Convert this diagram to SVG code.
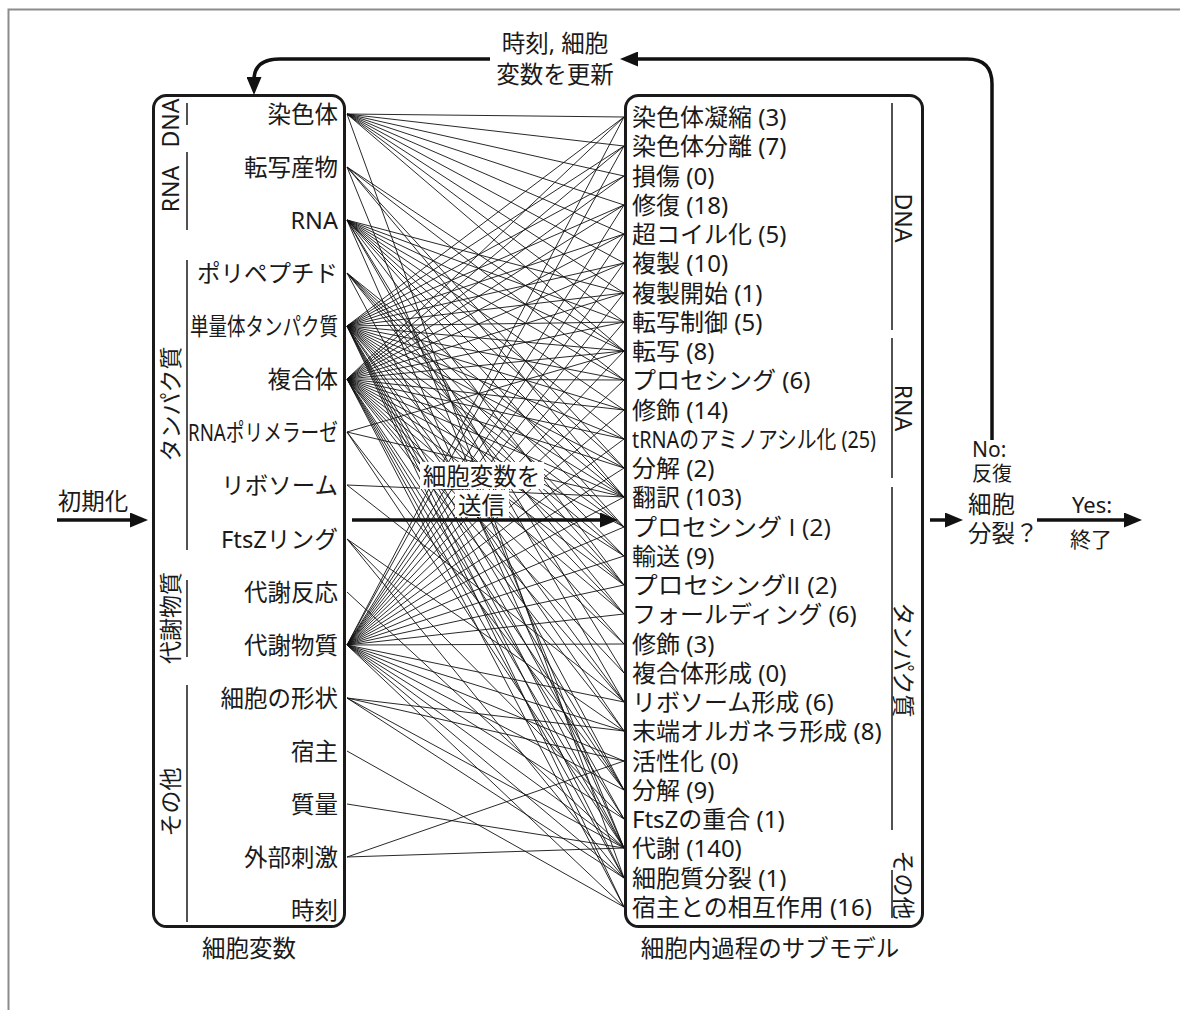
<svg xmlns="http://www.w3.org/2000/svg" width="1180" height="1010" viewBox="0 0 1180 1010">
<style>
.t{font-family:"Noto Sans","Noto Sans CJK JP",sans-serif;fill:#1a1a1a}
.os{font-family:"Open Sans","Noto Sans CJK JP",sans-serif}
.li{font-size:23.5px;text-anchor:end}
.ri{font-size:24px}
.lab{font-size:23.5px}
.rot{font-size:23px;text-anchor:middle;dominant-baseline:central}
.box{fill:none;stroke:#1a1a1a;stroke-width:3}
.grp{stroke:#1a1a1a;stroke-width:1.5}
.conn{stroke:#111;stroke-width:0.9;fill:none}
.big{stroke:#111;stroke-width:3.5;fill:none}
</style>
<defs>
<marker id="ah" viewBox="0 0 18 15" refX="8" refY="7.5" markerWidth="18" markerHeight="15" markerUnits="userSpaceOnUse" orient="auto"><path d="M0 0L18 7.5L0 15z" fill="#111"/></marker>
</defs>
<rect x="0" y="0" width="1180" height="1010" fill="#fff"/>
<rect x="8.5" y="9.5" width="1300" height="1100" fill="none" stroke="#8c8c8c" stroke-width="2"/>

<g id="connectors">
<path class="conn" d="M347 114 624 117M347 114 624 146M347 114 624 176M347 114 624 205M347 114 624 234M347 114 624 263M347 114 624 293M347 114 624 322M347 114 624 351M347 114 624 878"/>
<path class="conn" d="M347 167 624 351M347 167 624 380M347 167 624 468M347 167 624 497M347 167 624 848"/>
<path class="conn" d="M347 220 624 293M347 220 624 322M347 220 624 351M347 220 624 380M347 220 624 410M347 220 624 439M347 220 624 468M347 220 624 497M347 220 624 527M347 220 624 585M347 220 624 673M347 220 624 702M347 220 624 848"/>
<path class="conn" d="M347 273 624 497M347 273 624 527M347 273 624 556M347 273 624 585M347 273 624 614M347 273 624 790"/>
<path class="conn" d="M347 326 624 117M347 326 624 146M347 326 624 176M347 326 624 205M347 326 624 234M347 326 624 263M347 326 624 293M347 326 624 322M347 326 624 351M347 326 624 380M347 326 624 410M347 326 624 439M347 326 624 468M347 326 624 497M347 326 624 527M347 326 624 556M347 326 624 585M347 326 624 614M347 326 624 644M347 326 624 702M347 326 624 731M347 326 624 790M347 326 624 819M347 326 624 848M347 326 624 878M347 326 624 907"/>
<path class="conn" d="M347 379 624 117M347 379 624 146M347 379 624 176M347 379 624 205M347 379 624 234M347 379 624 263M347 379 624 293M347 379 624 322M347 379 624 351M347 379 624 380M347 379 624 410M347 379 624 439M347 379 624 468M347 379 624 497M347 379 624 527M347 379 624 556M347 379 624 585M347 379 624 614M347 379 624 644M347 379 624 673M347 379 624 702M347 379 624 731M347 379 624 790M347 379 624 819M347 379 624 848M347 379 624 878M347 379 624 907"/>
<path class="conn" d="M347 432 624 351M347 432 624 497M347 432 624 790M347 432 624 848"/>
<path class="conn" d="M347 485 624 497M347 485 624 702"/>
<path class="conn" d="M347 539 624 731M347 539 624 819M347 539 624 878"/>
<path class="conn" d="M347 592 624 848"/>
<path class="conn" d="M347 645 624 117M347 645 624 146M347 645 624 205M347 645 624 234M347 645 624 263M347 645 624 293M347 645 624 322M347 645 624 351M347 645 624 380M347 645 624 410M347 645 624 439M347 645 624 468M347 645 624 497M347 645 624 527M347 645 624 556M347 645 624 585M347 645 624 614M347 645 624 644M347 645 624 702M347 645 624 731M347 645 624 761M347 645 624 790M347 645 624 819M347 645 624 848M347 645 624 878M347 645 624 907"/>
<path class="conn" d="M347 698 624 731M347 698 624 761M347 698 624 848M347 698 624 878"/>
<path class="conn" d="M347 751 624 907"/>
<path class="conn" d="M347 804 624 848"/>
<path class="conn" d="M347 857 624 761M347 857 624 848"/>
</g>

<g id="send">
<rect x="420" y="462" width="124" height="27" fill="#fff"/>
<rect x="455" y="490" width="54" height="27" fill="#fff"/>
<text class="t lab" x="481.5" y="485" text-anchor="middle">細胞変数を</text>
<text class="t lab" x="481.5" y="514" text-anchor="middle">送信</text>
<path class="big" d="M352 520H608" marker-end="url(#ah)"/>
</g>

<g id="cell-variables">
<rect class="box" x="153.5" y="95.5" width="191" height="831" rx="13"/>
<path class="grp" d="M187 103V125M187 152V230M187 260V550M187 580V657M187 685V922"/>
<text class="t rot" transform="translate(170,123) rotate(-90)">DNA</text>
<text class="t rot" transform="translate(170,189) rotate(-90)">RNA</text>
<text class="t rot" transform="translate(170,404) rotate(-90)">タンパク質</text>
<text class="t rot" transform="translate(170,618) rotate(-90)">代謝物質</text>
<text class="t rot" transform="translate(170,802) rotate(-90)">その他</text>
<text class="t li" x="338" y="123">染色体</text>
<text class="t li" x="338" y="176">転写産物</text>
<text class="t li" x="338" y="229">RNA</text>
<text class="t li" x="338" y="282">ポリペプチド</text>
<text class="t li" x="338" y="335" textLength="148" lengthAdjust="spacingAndGlyphs">単量体タンパク質</text>
<text class="t li" x="338" y="388">複合体</text>
<text class="t li" x="338" y="441" textLength="150" lengthAdjust="spacingAndGlyphs">RNAポリメラーゼ</text>
<text class="t li" x="338" y="494">リボソーム</text>
<text class="t li" x="338" y="548" textLength="117" lengthAdjust="spacingAndGlyphs">FtsZリング</text>
<text class="t li" x="338" y="601">代謝反応</text>
<text class="t li" x="338" y="654">代謝物質</text>
<text class="t li" x="338" y="707">細胞の形状</text>
<text class="t li" x="338" y="760">宿主</text>
<text class="t li" x="338" y="813">質量</text>
<text class="t li" x="338" y="866">外部刺激</text>
<text class="t li" x="338" y="919">時刻</text>
<text class="t lab" x="249" y="957" text-anchor="middle">細胞変数</text>
</g>

<g id="submodels">
<rect class="box" x="625.5" y="95.5" width="297" height="831" rx="13"/>
<path class="grp" d="M892 103V330M892 338V478M892 487V830M892 870V918"/>
<text class="t rot" transform="translate(904,218) rotate(90)">DNA</text>
<text class="t rot" transform="translate(904,408) rotate(90)">RNA</text>
<text class="t rot" transform="translate(904,660) rotate(90)">タンパク質</text>
<text class="t rot" transform="translate(904,885) rotate(90)">その他</text>
<text class="t ri" x="632" y="126">染色体凝縮 (3)</text>
<text class="t ri" x="632" y="155">染色体分離 (7)</text>
<text class="t ri" x="632" y="185">損傷 (0)</text>
<text class="t ri" x="632" y="214">修復 (18)</text>
<text class="t ri" x="632" y="243">超コイル化 (5)</text>
<text class="t ri" x="632" y="272">複製 (10)</text>
<text class="t ri" x="632" y="302">複製開始 (1)</text>
<text class="t ri" x="632" y="331">転写制御 (5)</text>
<text class="t ri" x="632" y="360">転写 (8)</text>
<text class="t ri" x="632" y="389">プロセシング (6)</text>
<text class="t ri" x="632" y="419">修飾 (14)</text>
<text class="t ri" x="632" y="448" textLength="244" lengthAdjust="spacingAndGlyphs">tRNAのアミノアシル化 (25)</text>
<text class="t ri" x="632" y="477">分解 (2)</text>
<text class="t ri" x="632" y="506">翻訳 (103)</text>
<text class="t ri os" x="632" y="536" textLength="199" lengthAdjust="spacingAndGlyphs">プロセシング I (2)</text>
<text class="t ri" x="632" y="565">輸送 (9)</text>
<text class="t ri os" x="632" y="594" textLength="205" lengthAdjust="spacingAndGlyphs">プロセシングII (2)</text>
<text class="t ri" x="632" y="623">フォールディング (6)</text>
<text class="t ri" x="632" y="653">修飾 (3)</text>
<text class="t ri" x="632" y="682">複合体形成 (0)</text>
<text class="t ri" x="632" y="711">リボソーム形成 (6)</text>
<text class="t ri" x="632" y="740">末端オルガネラ形成 (8)</text>
<text class="t ri" x="632" y="770">活性化 (0)</text>
<text class="t ri" x="632" y="799">分解 (9)</text>
<text class="t ri" x="632" y="828">FtsZの重合 (1)</text>
<text class="t ri" x="632" y="857">代謝 (140)</text>
<text class="t ri" x="632" y="887">細胞質分裂 (1)</text>
<text class="t ri" x="632" y="916">宿主との相互作用 (16)</text>
<text class="t lab" x="770" y="957" text-anchor="middle">細胞内過程のサブモデル</text>
</g>

<g id="init">
<text class="t lab" x="93" y="510" text-anchor="middle">初期化</text>
<path class="big" d="M57 520H138" marker-end="url(#ah)"/>
</g>

<g id="update-loop">
<path class="big" d="M992 440V84Q992 59 967 59H630" marker-end="url(#ah)"/>
<path class="big" d="M490 59H280Q254 59 254 80V85" marker-end="url(#ah)"/>
<text class="t lab" x="555" y="52" text-anchor="middle">時刻, 細胞</text>
<text class="t lab" x="555" y="83" text-anchor="middle">変数を更新</text>
<text class="t" x="972" y="457" font-size="21">No:</text>
<text class="t" x="972" y="481" font-size="20">反復</text>
</g>

<g id="division">
<path class="big" d="M930 520H953" marker-end="url(#ah)"/>
<text class="t lab" x="968" y="513">細胞</text>
<text class="t lab" x="968" y="542">分裂？</text>
<path class="big" d="M1037 520H1132" marker-end="url(#ah)"/>
<text class="t" x="1092" y="513" font-size="22" text-anchor="middle">Yes:</text>
<text class="t" x="1091" y="547" font-size="21" text-anchor="middle">終了</text>
</g>
</svg>
